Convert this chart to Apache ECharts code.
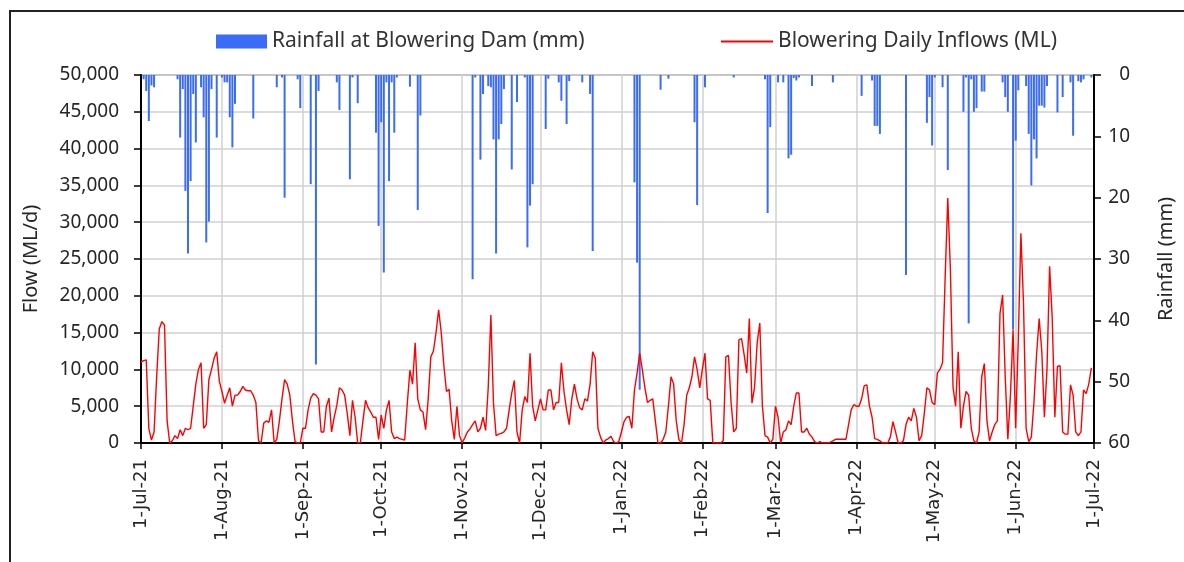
<!DOCTYPE html>
<html>
<head>
<meta charset="utf-8">
<script src="https://cdn.jsdelivr.net/npm/echarts@6/dist/echarts.min.js"></script>
<style>
  html, body { margin: 0; padding: 0; background: #fff; }
  .frame { position: absolute; left: 9px; top: 10px; width: 1180px; height: 560px;
           border-left: 2px solid #222; border-top: 2px solid #222; }
  #chart { position: absolute; left: 0; top: 0; width: 1184px; height: 562px; }
</style>
</head>
<body>
<div class="frame"></div>
<div id="chart"></div>
<script>
// daily inflows (ML/d), one array per month, 1-Jul-21 .. 30-Jun-22
const flowJul = [11000, 11200, 11300, 2000, 400, 1500, 9000, 15500, 16500, 16000, 3000, 0, 300, 1000, 600, 1800,
  1000, 2000, 1800, 2000, 5000, 8000, 10000, 10900, 2000, 2500, 8600, 10000, 11500, 12400, 8400];
const flowAug = [7000, 5400, 6500, 7500, 5000, 6500, 6500, 7000, 7700, 7200, 7100, 7100, 6500, 5500, 300, 0,
  2700, 3000, 2800, 4500, 0, 500, 3000, 6000, 8600, 8000, 6500, 3000, 200, 0, 0];
const flowSep = [2000, 2000, 4500, 6100, 6700, 6500, 6000, 1500, 1500, 5000, 6100, 1500, 3500, 5100, 7500, 7200,
  6500, 4000, 1000, 5800, 3500, 0, 0, 3000, 5800, 4800, 4200, 3500, 3500, 500];
const flowOct = [3800, 2000, 4500, 5800, 1500, 600, 800, 600, 500, 400, 5400, 9900, 8000, 13600, 6000, 4500,
  4200, 1800, 6000, 11700, 12500, 15000, 18100, 15000, 10500, 7000, 7300, 3000, 500, 5000, 1000];
const flowNov = [0, 700, 1500, 1900, 2500, 3000, 1500, 2000, 3500, 1700, 7600, 17400, 5400, 1000, 1200, 1300,
  1500, 2000, 4500, 6800, 8500, 1500, 0, 4500, 6300, 5500, 12200, 5000, 3000, 4500];
const flowDec = [6000, 4500, 4500, 7200, 7200, 4500, 5500, 5500, 10900, 7000, 4500, 2500, 6000, 8000, 6000, 4800,
  4500, 6000, 5700, 8000, 12400, 11500, 2000, 800, 0, 400, 600, 900, 200, 0, 200];
const flowJan = [1500, 2900, 3500, 3600, 2000, 7200, 9500, 12200, 10000, 7500, 5500, 5800, 6000, 3000, 0, 0,
  500, 1500, 5000, 9000, 8000, 3000, 500, 0, 2500, 6500, 7500, 9000, 11700, 10000, 7500];
const flowFeb = [10000, 12200, 6000, 5800, 0, 0, 0, 0, 300, 11700, 11900, 5500, 1500, 2000, 14000, 14200,
  12000, 9500, 16900, 5400, 7600, 13600, 16300, 5000, 1000, 800, 0, 500];
const flowMar = [5000, 3500, 0, 1500, 1800, 3000, 2500, 5000, 6800, 6800, 1500, 1500, 2000, 1200, 800, 200,
  0, 200, 0, 0, 0, 100, 300, 500, 500, 500, 500, 500, 2500, 4500, 5200];
const flowApr = [5000, 5000, 6000, 7800, 7900, 5000, 3500, 600, 500, 300, 0, 0, 0, 800, 2900, 1500,
  0, 0, 300, 2500, 3500, 3000, 4700, 3500, 300, 1000, 4000, 7500, 7200, 5500];
const flowMay = [5200, 9500, 10000, 10900, 22600, 33300, 23500, 7600, 5000, 12400, 2000, 5000, 7000, 6500, 2000, 300,
  0, 1500, 9000, 10800, 3000, 300, 1500, 2500, 3000, 17600, 20100, 9000, 500, 6500, 15400];
const flowJun = [2000, 14000, 28500, 19000, 2000, 200, 800, 5500, 12000, 16900, 12500, 3500, 10000, 24000, 17000, 3500,
  10400, 10500, 1500, 1200, 1200, 7900, 6500, 1500, 1000, 1500, 7200, 6700, 8000, 10200];

// rainfall (mm) on wet days: [day of month, mm]
const rainJul = [[2, 0.7], [3, 2.6], [4, 7.5], [5, 1.7], [6, 2.0], [15, 0.7], [16, 10.2], [17, 2.3], [18, 18.9],
  [19, 29.1], [20, 17.3], [21, 3.1], [22, 11], [24, 2.0], [25, 6.9], [26, 27.3], [27, 23.9], [28, 2.3], [30, 10.2]];
const rainAug = [[1, 0.4], [2, 1.2], [3, 1.2], [4, 6.9], [5, 11.8], [6, 4.7], [13, 7.1], [22, 2.0], [24, 0.4],
  [25, 20], [30, 0.7], [31, 5.4]];
const rainSep = [[4, 17.8], [6, 47.2], [7, 2.6], [14, 1.2], [15, 5.7], [19, 17], [20, 0.4], [22, 4.6], [29, 9.4], [30, 24.6]];
const rainOct = [[1, 7.7], [2, 32.2], [3, 1.2], [4, 17.3], [5, 1.2], [6, 9.4], [7, 0.4], [12, 1.9], [15, 22], [16, 6.6]];
const rainNov = [[5, 33.3], [6, 0.4], [8, 13.8], [9, 3.1], [11, 1.8], [12, 2], [13, 10.5], [14, 29.1], [15, 10.5],
  [16, 8], [17, 2.3], [20, 15.4], [22, 4.4], [25, 0.4], [26, 28.1], [27, 21.3], [28, 17.8]];
const rainDec = [[3, 8.8], [4, 0.6], [8, 1.2], [9, 4.2], [11, 8], [12, 1], [17, 1.2], [20, 3.1], [21, 28.7]];
const rainJan = [[6, 17.5], [7, 30.6], [8, 51.3], [16, 2.4], [19, 0.6], [29, 7.7], [30, 21.2]];
const rainFeb = [[2, 2], [13, 0.4], [25, 0.7], [26, 22.5], [27, 8.5]];
const rainMar = [[2, 1.2], [4, 1.2], [6, 13.6], [7, 13], [8, 0.5], [9, 0.9], [10, 0.4], [15, 1.8], [23, 1.2]];
const rainApr = [[3, 3.4], [7, 0.9], [8, 8.3], [9, 8.3], [10, 9.6], [20, 32.6], [28, 7.8], [29, 3.6], [30, 11.5]];
const rainMay = [[1, 0.4], [4, 2], [6, 15.5], [12, 6], [13, 0.4], [14, 40.5], [15, 0.7], [16, 6], [17, 5.4],
  [19, 2.7], [20, 2.7], [27, 1.2], [28, 3.6], [29, 6], [31, 41.5]];
const rainJun = [[1, 10.7], [2, 2.5], [5, 1.8], [6, 9.6], [7, 18], [8, 10.5], [9, 13.6], [10, 5], [11, 5], [12, 5.3],
  [13, 1.8], [17, 6.1], [19, 3.6], [22, 1.2], [23, 9.9], [25, 1], [26, 1.2], [27, 0.7], [30, 0.4]];

const monthNames = ['Jan', 'Feb', 'Mar', 'Apr', 'May', 'Jun', 'Jul', 'Aug', 'Sep', 'Oct', 'Nov', 'Dec'];

// category axis: every day 1-Jul-21 .. 1-Jul-22
const dates = [];
const monthStart = {};
for (let i = 0; i < 366; i++) {
  const d = new Date(Date.UTC(2021, 6, 1) + i * 86400000);
  const yy = String(d.getUTCFullYear()).slice(2);
  dates.push(d.getUTCDate() + '-' + monthNames[d.getUTCMonth()] + '-' + yy);
  if (d.getUTCDate() === 1) monthStart[monthNames[d.getUTCMonth()] + yy] = i;
}

const flow = [].concat(flowJul, flowAug, flowSep, flowOct, flowNov, flowDec,
  flowJan, flowFeb, flowMar, flowApr, flowMay, flowJun);

const rain = dates.map(() => '-');
const rainMonths = [['Jul21', rainJul], ['Aug21', rainAug], ['Sep21', rainSep], ['Oct21', rainOct],
  ['Nov21', rainNov], ['Dec21', rainDec], ['Jan22', rainJan], ['Feb22', rainFeb], ['Mar22', rainMar],
  ['Apr22', rainApr], ['May22', rainMay], ['Jun22', rainJun]];
rainMonths.forEach(([key, list]) => {
  list.forEach(([day, mm]) => { rain[monthStart[key] + day - 1] = mm; });
});

const isFirst = (idx, val) => val.indexOf('1-') === 0;
const font = 'Noto Sans';

var myChart = echarts.init(document.getElementById('chart'));
myChart.setOption({
  animation: false,
  legend: [
    {
      left: 211, top: 26, itemWidth: 51, itemHeight: 14,
      textStyle: { fontFamily: font, fontSize: 21, color: '#333' },
      data: [{ name: 'Rainfall at Blowering Dam (mm)', icon: 'rect' }]
    },
    {
      left: 716, top: 26, itemWidth: 52, itemHeight: 2,
      textStyle: { fontFamily: font, fontSize: 21, color: '#333' },
      data: [{ name: 'Blowering Daily Inflows (ML)', icon: 'rect' }]
    }
  ],
  grid: {
    left: 141, top: 75, width: 960, height: 368,
    show: true, borderColor: '#a6a6a6', borderWidth: 2
  },
  xAxis: {
    type: 'category',
    data: dates,
    boundaryGap: false,
    axisLine: { lineStyle: { color: '#000', width: 2 } },
    axisTick: { interval: isFirst, length: 6, lineStyle: { color: '#000', width: 1.5 } },
    axisLabel: {
      interval: isFirst, rotate: 90, margin: 16,
      fontFamily: 'DejaVu Sans', fontSize: 18, color: '#262626'
    },
    splitLine: { show: true, interval: isFirst, lineStyle: { color: '#d0d0d0', width: 1.5 } }
  },
  yAxis: [
    {
      type: 'value', min: 0, max: 50000, interval: 5000,
      name: 'Flow (ML/d)', nameLocation: 'middle', nameGap: 100,
      nameTextStyle: { fontFamily: font, fontSize: 20, color: '#262626' },
      axisLine: { show: true, lineStyle: { color: '#000', width: 2 } },
      axisTick: { show: true, length: 7, lineStyle: { color: '#000', width: 1.5 } },
      axisLabel: {
        margin: 22, fontFamily: font, fontSize: 19, color: '#262626',
        formatter: v => v.toLocaleString('en-US')
      },
      splitLine: { lineStyle: { color: '#d0d0d0', width: 1.5 } }
    },
    {
      type: 'value', min: 0, max: 60, interval: 10, inverse: true, position: 'right',
      name: 'Rainfall (mm)', nameLocation: 'middle', nameGap: 62, nameRotate: 90,
      nameTextStyle: { fontFamily: font, fontSize: 20, color: '#262626' },
      axisLine: { show: true, lineStyle: { color: '#000', width: 2 } },
      axisTick: { show: true, length: 7, lineStyle: { color: '#000', width: 1.5 } },
      axisLabel: { margin: 36, align: 'right', fontFamily: font, fontSize: 19, color: '#262626' },
      splitLine: { show: false }
    }
  ],
  series: [
    {
      name: 'Rainfall at Blowering Dam (mm)',
      type: 'bar',
      yAxisIndex: 1,
      data: rain,
      barWidth: 2,
      itemStyle: { color: '#3a6cf7' }
    },
    {
      name: 'Blowering Daily Inflows (ML)',
      type: 'line',
      yAxisIndex: 0,
      data: flow,
      symbol: 'none',
      lineStyle: { color: '#ff0000', width: 1.4 },
      itemStyle: { color: '#ff0000' }
    }
  ]
});
</script>
</body>
</html>
